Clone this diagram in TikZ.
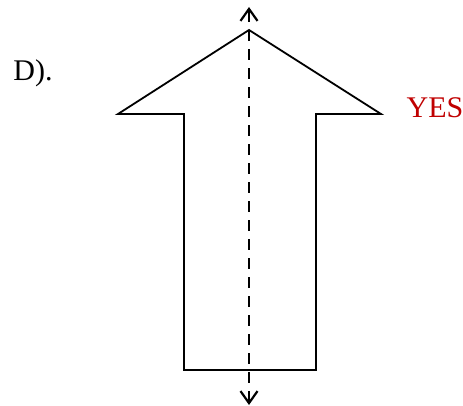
\documentclass[tikz,border=0pt]{standalone}
\usepackage{fontspec}
\setmainfont{Liberation Serif}
\usetikzlibrary{arrows.meta}
\definecolor{yesred}{RGB}{192,0,0}
\tikzset{
  outline/.style={draw=black, line width=1.8pt, line join=miter},
  axisline/.style={draw=black, line width=2.2pt, dash pattern=on 11pt off 8pt, {Straight Barb[length=12pt,width=17pt,line width=2.2pt]}-{Straight Barb[length=12pt,width=17pt,line width=2.2pt]}},
  lbl/.style={font=\fontsize{30}{34}\selectfont, inner sep=0pt}
}
\begin{document}
\begin{tikzpicture}[x=1pt,y=-1pt]
\useasboundingbox (0,0) rectangle (463,406);
\draw[outline] (249,30) -- (381,114) -- (316,114) -- (316,370) -- (184,370) -- (184,114) -- (118,114) -- cycle;
\coordinate (top) at (249,7);
\coordinate (bot) at (249,405);
\draw[axisline] (bot) -- (top);
\node[lbl] (d) at (33,73) {D).};
\node[lbl, text=yesred] (yes) at (435,108) {YES};
\end{tikzpicture}
\end{document}
